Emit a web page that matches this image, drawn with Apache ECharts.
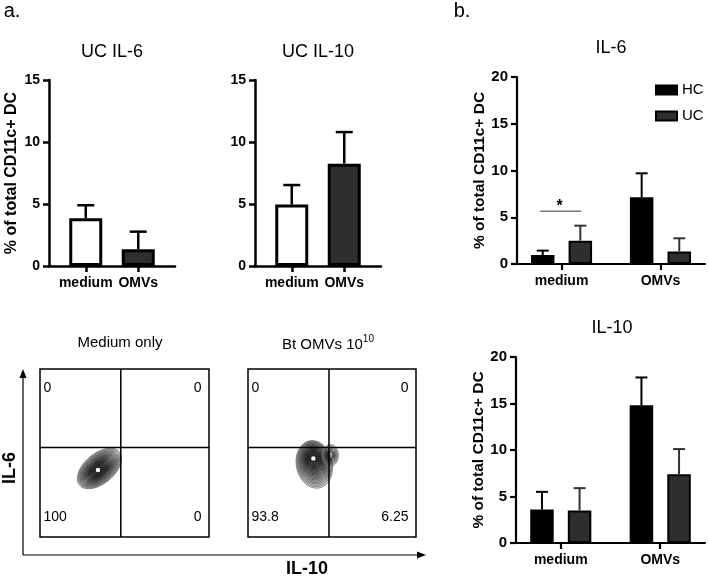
<!DOCTYPE html>
<html><head><meta charset="utf-8">
<script src="https://cdn.jsdelivr.net/npm/echarts@6/dist/echarts.min.js"></script>
<style>html,body{margin:0;padding:0;background:#fff}#c{width:709px;height:577px}</style>
</head><body><div id="c"></div>
<script>
// ================= DATA =================
// Panel a (UC patients)
const groupsA = ['medium', 'OMVs'];
const ucIL6Mean = [3.85, 1.35];
const ucIL6Upper = [4.9, 2.77];
const ucIL10Mean = [4.95, 8.25];
const ucIL10Upper = [6.53, 10.8];
const yTicksA = [0, 5, 10, 15];

// Panel b (HC vs UC)
const groupsB = ['medium', 'OMVs'];
const cohorts = ['HC', 'UC'];
const il6HCMean = [0.95, 7.15];
const il6HCUpper = [1.43, 9.7];
const il6UCMean = [2.5, 1.35];
const il6UCUpper = [4.1, 2.75];
const il10HCMean = [3.6, 14.8];
const il10HCUpper = [5.5, 17.8];
const il10UCMean = [3.5, 7.4];
const il10UCUpper = [5.9, 10.1];
const yTicksB = [0, 5, 10, 15, 20];
const il6Significance = [{ group: 'medium', y: 5.65, text: '*' }];

// Flow plots (quadrants: UL, UR, LL, LR)
const quadrantMedium = [0, 0, 100, 0];
const quadrantOMV = [0, 0, 93.8, 6.25];
const gateMedium = [47.8, 53.2];
const gateOMV = [48.2, 53.2];
const populationMedium = [[34.3, 39.9]];
const populationOMV = [[38.9, 46.8]];

// Texts
const panelLetters = ['a.', 'b.'];
const panelTitles = ['UC IL-6', 'UC IL-10', 'IL-6', 'IL-10'];
const flowTitles = ['Medium only', 'Bt OMVs 10', '10'];
const flowAxisNames = ['IL-6', 'IL-10'];
const yName = '% of total CD11c+ DC';

// ================= STYLE =================
const FONT = '"Liberation Sans", Arial, Helvetica, sans-serif';
const SLOTS_A = { n: 12, idx: [3, 8] };
const SLOTS_B = { n: 19, idx: [4, 14] };
const BAR_A = 33, BAR_B = 23.5, GAP_B = 0.6;
const OFF_B = (BAR_B + GAP_B * BAR_B) / 2;
const DARK = '#2e2e2e';
const deg = Math.PI / 180;
const CONTOUR = {
  medium: [{ dx: 1.5, dy: -1.5, rx: 26, ry: 15, rot: -40 * deg, rings: 24, kMin: 0.08, fixed: false }],
  omv: [
    { dx: 1, dy: 6, rx: 18, ry: 24, rot: -12 * deg, rings: 24, kMin: 0.08, fixed: false },
    { dx: 17, dy: -3, rx: 8, ry: 11, rot: 0, rings: 7, kMin: 0.3, fixed: true }
  ]
};

function slotCats(groups, s) {
  const a = new Array(s.n).fill('');
  groups.forEach((g, i) => { a[s.idx[i]] = g; });
  return a;
}
const catsA = slotCats(groupsA, SLOTS_A);
const catsB = slotCats(groupsB, SLOTS_B);
const showCat = (i, v) => v !== '';

function catAxis(gridIndex, cats, lw) {
  return {
    type: 'category', gridIndex, data: cats, boundaryGap: true,
    axisLine: { show: true, lineStyle: { color: '#000', width: lw } },
    axisTick: { show: true, alignWithLabel: true, length: 6, interval: showCat, lineStyle: { color: '#000', width: lw } },
    axisLabel: { show: true, interval: showCat, margin: 10, color: '#000', fontWeight: 'bold', fontSize: 14, fontFamily: FONT },
    splitLine: { show: false }
  };
}
function valAxis(gridIndex, ticks, lw, fs, name, nameGap, nameFs) {
  return {
    type: 'value', gridIndex, min: ticks[0], max: ticks[ticks.length - 1], interval: ticks[1] - ticks[0],
    axisLine: { show: true, lineStyle: { color: '#000', width: lw } },
    axisTick: { show: true, length: 6, lineStyle: { color: '#000', width: lw } },
    axisLabel: { margin: 9, color: '#000', fontWeight: 'bold', fontSize: fs, fontFamily: FONT },
    splitLine: { show: false },
    name: name || '', nameLocation: 'middle', nameGap: nameGap,
    nameTextStyle: { color: '#000', fontWeight: 'bold', fontSize: nameFs, fontFamily: FONT }
  };
}
function hiddenAxis(gridIndex) {
  return { type: 'value', gridIndex, min: 0, max: 100, show: false, splitLine: { show: false } };
}

function errSeries(xi, slots, means, uppers, offset, capW, color, lw) {
  return {
    type: 'custom', xAxisIndex: xi, yAxisIndex: xi, z: 5, silent: true,
    data: means.map((m, i) => [slots.idx[i], m, uppers[i]]),
    renderItem(params, api) {
      const p = api.coord([api.value(0), api.value(1)]);
      const t = api.coord([api.value(0), api.value(2)]);
      const x = p[0] + offset;
      return {
        type: 'group', children: [
          { type: 'line', shape: { x1: x, y1: p[1], x2: x, y2: t[1] }, style: { stroke: color, lineWidth: lw } },
          { type: 'line', shape: { x1: x - capW / 2, y1: t[1], x2: x + capW / 2, y2: t[1] }, style: { stroke: color, lineWidth: lw } }
        ]
      };
    }
  };
}

function barA(xi, means) {
  const fills = ['#fff', DARK];
  return {
    type: 'bar', xAxisIndex: xi, yAxisIndex: xi, barWidth: BAR_A, silent: true,
    itemStyle: { borderColor: '#000', borderWidth: 3 },
    data: means.map((v, i) => ({ value: [SLOTS_A.idx[i], v], itemStyle: { color: fills[i] } }))
  };
}
function barB(xi, name, means, fill) {
  return {
    type: 'bar', name, xAxisIndex: xi, yAxisIndex: xi, barWidth: BAR_B, barGap: (GAP_B * 100) + '%', silent: true,
    itemStyle: { color: fill, borderColor: '#000', borderWidth: 2 },
    data: means.map((v, i) => [SLOTS_B.idx[i], v])
  };
}

function gateSeries(xi, gate) {
  return {
    type: 'custom', xAxisIndex: xi, yAxisIndex: xi, silent: true, z: 6,
    data: [gate],
    renderItem(params, api) {
      const gx = api.value(0), gy = api.value(1);
      const a = api.coord([gx, 0]), b = api.coord([gx, 100]);
      const c = api.coord([0, gy]), d = api.coord([100, gy]);
      const st = { stroke: '#000', lineWidth: 1.5 };
      return { type: 'group', children: [
        { type: 'line', shape: { x1: a[0], y1: a[1], x2: b[0], y2: b[1] }, style: st },
        { type: 'line', shape: { x1: c[0], y1: c[1], x2: d[0], y2: d[1] }, style: st }
      ] };
    }
  };
}
function quadSeries(xi, vals) {
  return {
    type: 'custom', xAxisIndex: xi, yAxisIndex: xi, silent: true, z: 7,
    data: vals.map((v, i) => [i, v]),
    renderItem(params, api) {
      const cs = params.coordSys;
      const i = api.value(0), v = api.value(1);
      const left = (i === 0 || i === 2);
      const top = (i < 2);
      const x = left ? cs.x + 3.5 : cs.x + cs.width - 7.5;
      const y = top ? cs.y + 19 : cs.y + cs.height - 19.5;
      return { type: 'text', x, y, style: { text: String(v), fill: '#000', font: '14px ' + FONT, align: left ? 'left' : 'right', verticalAlign: 'middle' } };
    }
  };
}
function mix(c1, c2, t) {
  const r = Math.round(c1[0] + (c2[0] - c1[0]) * t), g = Math.round(c1[1] + (c2[1] - c1[1]) * t), b = Math.round(c1[2] + (c2[2] - c1[2]) * t);
  return 'rgb(' + r + ',' + g + ',' + b + ')';
}
function ringPts(cx, cy, rx, ry, rot) {
  const pts = [], c = Math.cos(rot), s = Math.sin(rot), n = 56;
  for (let i = 0; i < n; i++) {
    const t = i / n * 2 * Math.PI, ex = rx * Math.cos(t), ey = ry * Math.sin(t);
    pts.push([cx + ex * c - ey * s, cy + ex * s + ey * c]);
  }
  return pts;
}
function contourSeries(xi, pops, spec) {
  return {
    type: 'custom', xAxisIndex: xi, yAxisIndex: xi, silent: true, z: 4,
    data: pops,
    renderItem(params, api) {
      const p = api.coord([api.value(0), api.value(1)]);
      const kids = [];
      spec.forEach(sh => {
        for (let i = 0; i < sh.rings; i++) {
          const k = 1 - i * (1 - sh.kMin) / (sh.rings - 1);
          const f = sh.fixed ? 1 : k * k;
          const cx = p[0] + sh.dx * f, cy = p[1] + sh.dy * f;
          kids.push({ type: 'polygon', shape: { points: ringPts(cx, cy, sh.rx * k, sh.ry * k, sh.rot) },
            style: { fill: 'rgba(0,0,0,0.045)', stroke: mix([120, 120, 120], [20, 20, 20], Math.min(1, (1 - k) * 1.6)), lineWidth: 0.9 } });
        }
      });
      kids.push({ type: 'circle', shape: { cx: p[0], cy: p[1], r: 2.2 }, style: { fill: '#fff' } });
      return { type: 'group', children: kids };
    }
  };
}
function sigSeries(xi, sigs) {
  return {
    type: 'custom', xAxisIndex: xi, yAxisIndex: xi, silent: true, z: 6,
    data: sigs.map((s, i) => [SLOTS_B.idx[groupsB.indexOf(s.group)], s.y, i]),
    renderItem(params, api) {
      const c = api.coord([api.value(0), api.value(1)]);
      const s = sigs[api.value(2)];
      return { type: 'group', children: [
        { type: 'line', shape: { x1: c[0] - OFF_B - 2.5, y1: c[1], x2: c[0] + OFF_B + 1, y2: c[1] }, style: { stroke: '#333', lineWidth: 1 } },
        { type: 'text', x: c[0] - 2, y: c[1] - 5, style: { text: s.text, fill: '#000', font: 'bold 16px ' + FONT, align: 'center', verticalAlign: 'middle' } }
      ] };
    }
  };
}

function txt(text, x, y, size, weight, rot) {
  return { type: 'text', x, y, rotation: rot || 0, silent: true,
    style: { text, fill: '#000', font: (weight || 'normal') + ' ' + size + 'px ' + FONT, align: 'center', verticalAlign: 'middle' } };
}

const option = {
  backgroundColor: '#fff',
  animation: false,
  grid: [
    { left: 49, top: 80, width: 126, height: 186, outerBoundsMode: 'none' },
    { left: 255, top: 80, width: 126, height: 186, outerBoundsMode: 'none' },
    { left: 517, top: 77, width: 188, height: 187, outerBoundsMode: 'none' },
    { left: 516, top: 357, width: 189, height: 186, outerBoundsMode: 'none' },
    { left: 40, top: 369, width: 169, height: 168, show: true, borderColor: '#000', borderWidth: 1.5, outerBoundsMode: 'none' },
    { left: 248, top: 369, width: 168, height: 168, show: true, borderColor: '#000', borderWidth: 1.5, outerBoundsMode: 'none' }
  ],
  xAxis: [
    catAxis(0, catsA, 2.5), catAxis(1, catsA, 2.5), catAxis(2, catsB, 2.2), catAxis(3, catsB, 2.2),
    hiddenAxis(4), hiddenAxis(5)
  ],
  yAxis: [
    valAxis(0, yTicksA, 2.5, 14, yName, 29, 16),
    valAxis(1, yTicksA, 2.5, 14, '', 30, 16),
    valAxis(2, yTicksB, 2.2, 15, yName, 29, 15.5),
    valAxis(3, yTicksB, 2.2, 15, yName, 29, 15.5),
    hiddenAxis(4), hiddenAxis(5)
  ],
  legend: {
    data: cohorts, orient: 'vertical', left: 655, top: 82.5, padding: 0, itemWidth: 21, itemHeight: 9, itemGap: 11,
    selectedMode: false, icon: 'rect',
    textStyle: { fontSize: 15, color: '#000', fontFamily: FONT }
  },
  series: [
    barA(0, ucIL6Mean), errSeries(0, SLOTS_A, ucIL6Mean, ucIL6Upper, 0, 17, '#000', 2.5),
    barA(1, ucIL10Mean), errSeries(1, SLOTS_A, ucIL10Mean, ucIL10Upper, 0, 17, '#000', 2.5),
    barB(2, 'HC', il6HCMean, '#000'), barB(2, 'UC', il6UCMean, DARK),
    errSeries(2, SLOTS_B, il6HCMean, il6HCUpper, -OFF_B, 12, '#000', 2),
    errSeries(2, SLOTS_B, il6UCMean, il6UCUpper, OFF_B, 12, '#333', 2),
    sigSeries(2, il6Significance),
    barB(3, 'HC', il10HCMean, '#000'), barB(3, 'UC', il10UCMean, DARK),
    errSeries(3, SLOTS_B, il10HCMean, il10HCUpper, -OFF_B, 12, '#000', 2),
    errSeries(3, SLOTS_B, il10UCMean, il10UCUpper, OFF_B, 12, '#333', 2),
    contourSeries(4, populationMedium, CONTOUR.medium), gateSeries(4, gateMedium), quadSeries(4, quadrantMedium),
    contourSeries(5, populationOMV, CONTOUR.omv), gateSeries(5, gateOMV), quadSeries(5, quadrantOMV)
  ],
  graphic: [
    txt(panelLetters[0], 12, 11, 20), txt(panelLetters[1], 462, 11, 20),
    txt(panelTitles[0], 112, 52, 18), txt(panelTitles[1], 318, 52, 18),
    txt(panelTitles[2], 611, 48, 18), txt(panelTitles[3], 612, 328, 18),
    txt(flowTitles[0], 120, 343, 15),
    { type: 'text', x: 328, y: 343, silent: true,
      style: { text: '{a|' + flowTitles[1] + '}{s|' + flowTitles[2] + '}', align: 'center', verticalAlign: 'middle',
        rich: { a: { font: '15px ' + FONT, fill: '#000', lineHeight: 18, verticalAlign: 'bottom' },
                s: { font: '10px ' + FONT, fill: '#000', lineHeight: 18, verticalAlign: 'top' } } } },
    { type: 'line', silent: true, shape: { x1: 23, y1: 555, x2: 23, y2: 377 }, style: { stroke: '#000', lineWidth: 1.2 } },
    { type: 'polygon', silent: true, shape: { points: [[23, 369], [19.5, 378], [26.5, 378]] }, style: { fill: '#000' } },
    { type: 'line', silent: true, shape: { x1: 23, y1: 555, x2: 418, y2: 555 }, style: { stroke: '#000', lineWidth: 1.2 } },
    { type: 'polygon', silent: true, shape: { points: [[426, 555], [417, 551.5], [417, 558.5]] }, style: { fill: '#000' } },
    txt(flowAxisNames[0], 10, 468, 18, 'bold', Math.PI / 2),
    txt(flowAxisNames[1], 307, 569, 18, 'bold')
  ]
};

const chart = echarts.init(document.getElementById('c'), null, { renderer: 'canvas' });
chart.setOption(option);
</script>
</body></html>
